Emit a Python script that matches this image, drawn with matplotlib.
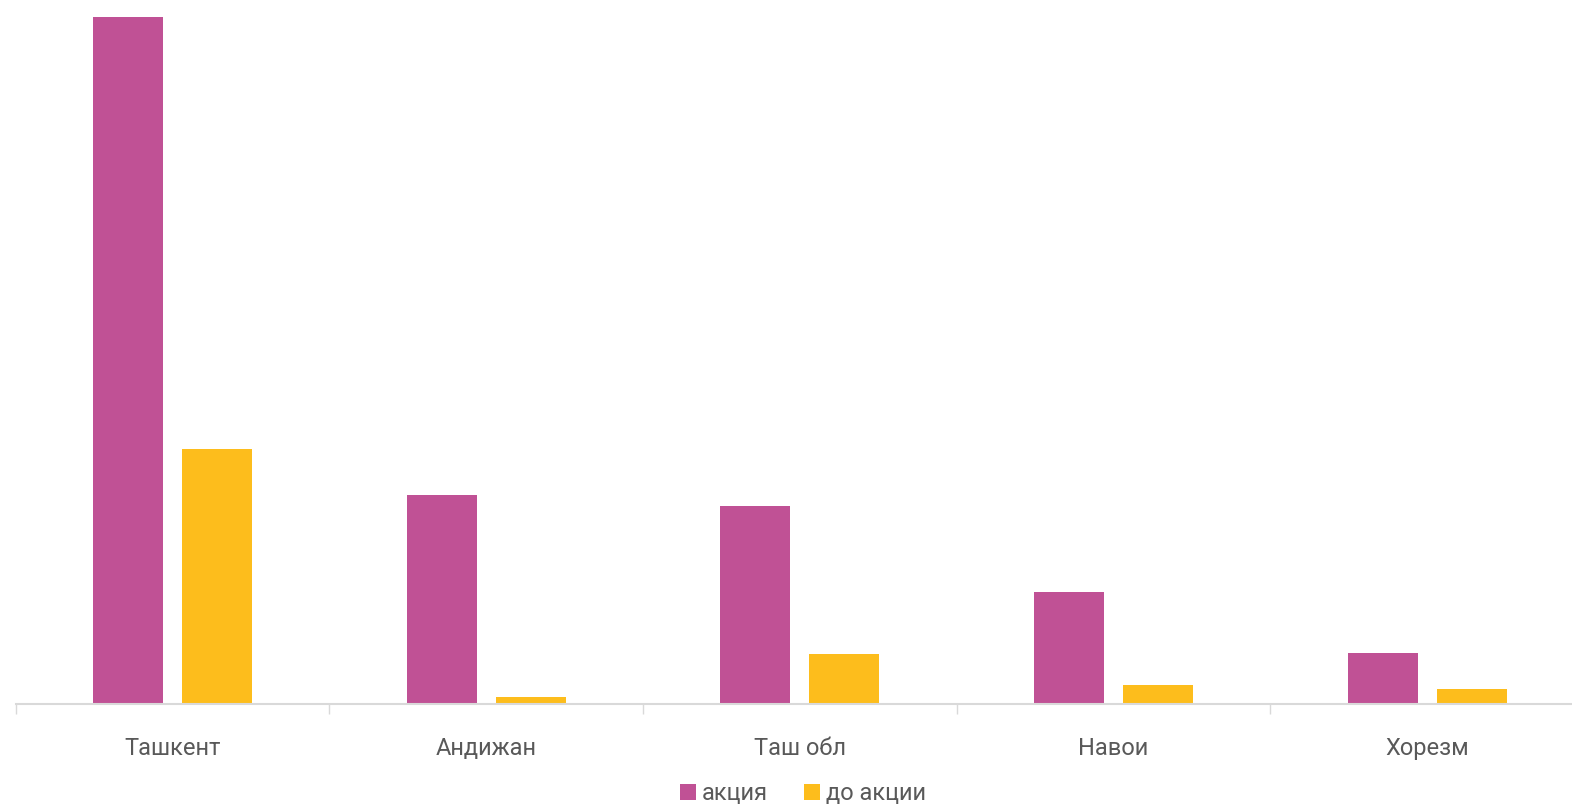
import numpy as np
import matplotlib.pyplot as plt

plt.rcParams['font.family'] = ['Roboto', 'DejaVu Sans']

regions = ['Ташкент', 'Андижан', 'Таш обл', 'Навои', 'Хорезм']
akciya = [687, 209, 198, 112, 51]
do_akcii = [255, 7, 50, 19, 15]

purple = '#C05195'
yellow = '#FDBD1C'
grey_txt = '#595959'

fig = plt.figure(figsize=(15.72, 8.09), dpi=100)
ax = fig.add_axes([15.5 / 1572, 105 / 809, 1556.5 / 1572, 694 / 809])

x = np.arange(len(regions))
w = 0.223
ax.bar(x - 0.142, akciya, w, color=purple, label='акция')
ax.bar(x + 0.142, do_akcii, w, color=yellow, label='до акции')

for s in ['top', 'right', 'left']:
    ax.spines[s].set_visible(False)
ax.spines['bottom'].set_color('#D9D9D9')
ax.spines['bottom'].set_linewidth(1.5)
ax.set_yticks([])

ax.set_xticks(x)
ax.set_xticklabels(regions, fontsize=17, color=grey_txt)
ax.tick_params(axis='x', which='major', length=0, pad=24)
ax.set_xticks(np.arange(-0.5, len(regions), 1), minor=True)
ax.tick_params(axis='x', which='minor', length=7, width=1, color='#D9D9D9')

# limits last, set_xticks would widen them otherwise
ax.set_xlim(-0.5, -0.5 + 1556.5 / 313.75)
ax.set_ylim(0, 694)

fig.legend(loc='center', bbox_to_anchor=(803 / 1572, 1 - 794 / 809), ncol=2,
           frameon=False, fontsize=17, labelcolor=grey_txt,
           handlelength=0.68, handleheight=0.68, handletextpad=0.25, columnspacing=1.5)

fig.savefig('out.png', dpi=100)
